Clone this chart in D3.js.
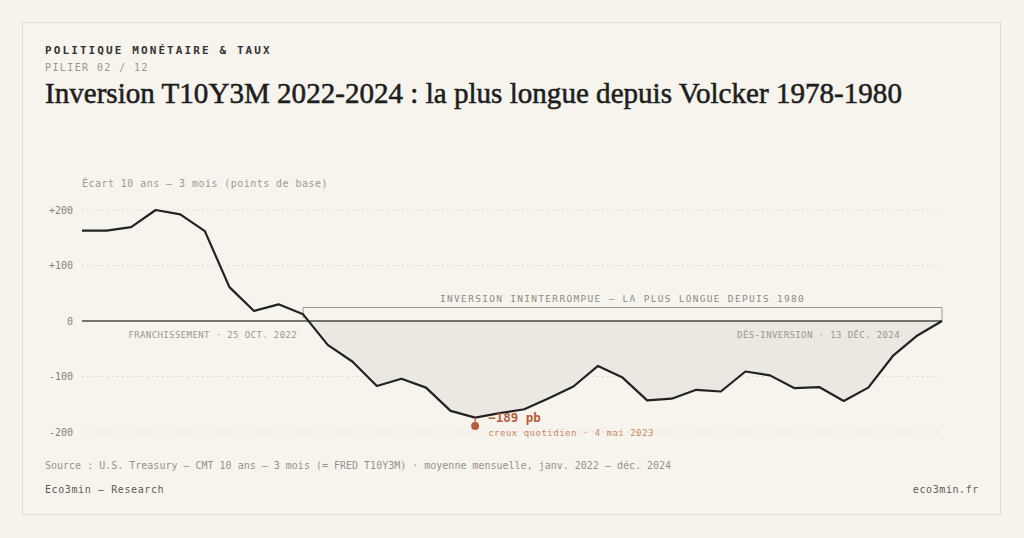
<!DOCTYPE html>
<html lang="fr">
<head>
<meta charset="utf-8">
<script src="https://cdn.jsdelivr.net/npm/d3@7"></script>
<style>
  html, body { margin: 0; padding: 0; background: #f6f3ec; }
  svg { display: block; }
</style>
</head>
<body>
<script>
// Spread 10 ans - 3 mois, moyenne mensuelle (pb), janv. 2022 -> déc. 2024
const months = [
  '2022-01', '2022-02', '2022-03', '2022-04', '2022-05', '2022-06',
  '2022-07', '2022-08', '2022-09', '2022-10', '2022-11', '2022-12',
  '2023-01', '2023-02', '2023-03', '2023-04', '2023-05', '2023-06',
  '2023-07', '2023-08', '2023-09', '2023-10', '2023-11', '2023-12',
  '2024-01', '2024-02', '2024-03', '2024-04', '2024-05', '2024-06',
  '2024-07', '2024-08', '2024-09', '2024-10', '2024-11', '2024-12'
];
const spread = [
  163, 163, 169, 200, 192, 162,
  61, 18, 30, 12, -43, -73,
  -117, -104, -120, -162, -174, -166,
  -159, -139, -118, -81, -102, -143,
  -140, -124, -127, -91, -98, -121,
  -119, -144, -120, -63, -26, 0
];
const yTicks = [200, 100, 0, -100, -200];
const yTickLabels = ['+200', '+100', '0', '-100', '-200'];

const crossMonth = '2022-10';
const crossLabel = 'FRANCHISSEMENT · 25 OCT. 2022';
const endMonth = '2024-12';
const endLabel = 'DÉS-INVERSION · 13 DÉC. 2024';
const bracketLabel = 'INVERSION ININTERROMPUE — LA PLUS LONGUE DEPUIS 1980';
const troughMonth = '2023-05';
const troughValue = -189;
const troughLabel = '−189 pb';
const troughNote = 'creux quotidien · 4 mai 2023';

const kicker = 'POLITIQUE MONÉTAIRE & TAUX';
const pillar = 'PILIER 02 / 12';
const title = 'Inversion T10Y3M 2022-2024 : la plus longue depuis Volcker 1978-1980';
const yCaption = 'Écart 10 ans – 3 mois (points de base)';
const source = 'Source : U.S. Treasury — CMT 10 ans – 3 mois (= FRED T10Y3M) · moyenne mensuelle, janv. 2022 – déc. 2024';
const brand = 'Eco3min — Research';
const site = 'eco3min.fr';

const W = 1024, H = 538;
const mono = '"DejaVu Sans Mono", "Liberation Mono", monospace';
const serif = '"Liberation Serif", "DejaVu Serif", serif';
const rust = '#b85c3c';

const svg = d3.select('body').append('svg')
  .attr('width', W).attr('height', H);

svg.append('rect')
  .attr('x', 22.5).attr('y', 22.5)
  .attr('width', 978).attr('height', 492)
  .attr('fill', '#f7f4ed')
  .attr('stroke', '#e2ddd2');

// header
svg.append('text')
  .attr('x', 45).attr('y', 54)
  .attr('font-family', mono).attr('font-size', 11).attr('font-weight', 700)
  .attr('letter-spacing', 2.1).attr('fill', '#333')
  .text(kicker);
svg.append('text')
  .attr('x', 45).attr('y', 71)
  .attr('font-family', mono).attr('font-size', 10)
  .attr('letter-spacing', 1.4).attr('fill', '#9a968e')
  .text(pillar);
// regular weight with a thin stroke, closer to the reference's semibold
const titleText = svg.append('text')
  .attr('x', 45).attr('y', 103)
  .attr('font-family', serif).attr('font-size', 28)
  .attr('fill', '#1e1e1e')
  .attr('stroke', '#1e1e1e').attr('stroke-width', 0.55)
  .text(title);
// fit the title to the reference width
const titleWidth = 857;
const tw = titleText.node().getComputedTextLength();
titleText.attr('font-size', 28 * titleWidth / tw);

const x = d3.scalePoint().domain(months).range([82, 942]);
const y = d3.scaleLinear().domain([-200, 200]).range([432, 210]);

const plot = svg.append('g');

// grid
plot.selectAll('line.grid')
  .data(yTicks.filter(d => d !== 0))
  .join('line')
  .attr('class', 'grid')
  .attr('x1', 82).attr('x2', 942)
  .attr('y1', d => y(d)).attr('y2', d => y(d))
  .attr('stroke', '#d9d4c9')
  .attr('stroke-width', 1)
  .attr('stroke-dasharray', '1.5,3.5');

plot.selectAll('text.tick')
  .data(yTicks)
  .join('text')
  .attr('class', 'tick')
  .attr('x', 73).attr('y', d => y(d))
  .attr('dy', '0.35em')
  .attr('text-anchor', 'end')
  .attr('font-family', mono).attr('font-size', 10)
  .attr('fill', '#86827a')
  .text((d, i) => yTickLabels[i]);

svg.append('text')
  .attr('x', 82).attr('y', 187)
  .attr('font-family', mono).attr('font-size', 10)
  .attr('letter-spacing', 0.45).attr('fill', '#9d9991')
  .text(yCaption);

// inverted area, clipped below zero
svg.append('clipPath').attr('id', 'below')
  .append('rect')
  .attr('x', 0).attr('y', y(0))
  .attr('width', W).attr('height', H - y(0));

const area = d3.area()
  .x((d, i) => x(months[i]))
  .y0(y(0))
  .y1(d => y(d));

plot.append('path')
  .datum(spread)
  .attr('clip-path', 'url(#below)')
  .attr('fill', '#ebe8e2')
  .attr('d', area);

// bracket
const bx0 = x(crossMonth), bx1 = x(endMonth);
plot.append('path')
  .attr('d', `M${bx0},${y(0) - 3}V307.5H${bx1}V${y(0)}`)
  .attr('fill', 'none')
  .attr('stroke', '#9d9992')
  .attr('stroke-width', 1);
plot.append('text')
  .attr('x', (bx0 + bx1) / 2).attr('y', 302)
  .attr('text-anchor', 'middle')
  .attr('font-family', mono).attr('font-size', 9.5)
  .attr('letter-spacing', 1.3).attr('fill', '#8f8b83')
  .text(bracketLabel);

// zero line
plot.append('line')
  .attr('x1', 82).attr('x2', 942)
  .attr('y1', y(0)).attr('y2', y(0))
  .attr('stroke', '#4a4845')
  .attr('stroke-width', 1.6);

// series
plot.append('path')
  .datum(spread)
  .attr('fill', 'none')
  .attr('stroke', '#222')
  .attr('stroke-width', 2.2)
  .attr('stroke-linejoin', 'round')
  .attr('d', d3.line().x((d, i) => x(months[i])).y(d => y(d)));

// event labels
plot.append('text')
  .attr('x', bx0 - 6).attr('y', y(0) + 17)
  .attr('text-anchor', 'end')
  .attr('font-family', mono).attr('font-size', 9)
  .attr('letter-spacing', 0.4).attr('fill', '#9a968e')
  .text(crossLabel);
plot.append('text')
  .attr('x', bx1 - 42).attr('y', y(0) + 17)
  .attr('text-anchor', 'end')
  .attr('font-family', mono).attr('font-size', 9)
  .attr('letter-spacing', 0.4).attr('fill', '#9a968e')
  .text(endLabel);

// trough
const tx = x(troughMonth);
const ti = months.indexOf(troughMonth);
plot.append('line')
  .attr('x1', tx).attr('x2', tx)
  .attr('y1', y(spread[ti])).attr('y2', y(troughValue))
  .attr('stroke', rust).attr('stroke-width', 1.2);
plot.append('circle')
  .attr('cx', tx).attr('cy', y(troughValue)).attr('r', 4)
  .attr('fill', rust);
plot.append('text')
  .attr('x', tx + 13).attr('y', y(troughValue) - 4)
  .attr('font-family', mono).attr('font-size', 12.5).attr('font-weight', 700)
  .attr('fill', rust)
  .text(troughLabel);
plot.append('text')
  .attr('x', tx + 13).attr('y', y(troughValue) + 10)
  .attr('font-family', mono).attr('font-size', 9)
  .attr('letter-spacing', 0.5).attr('fill', '#c98467')
  .text(troughNote);

// footer
svg.append('text')
  .attr('x', 45).attr('y', 469)
  .attr('font-family', mono).attr('font-size', 10)
  .attr('fill', '#96928a')
  .text(source);
svg.append('text')
  .attr('x', 45).attr('y', 493)
  .attr('font-family', mono).attr('font-size', 10)
  .attr('letter-spacing', 0.6).attr('fill', '#5f5b55')
  .text(brand);
svg.append('text')
  .attr('x', 979).attr('y', 493)
  .attr('text-anchor', 'end')
  .attr('font-family', mono).attr('font-size', 10)
  .attr('letter-spacing', 0.6).attr('fill', '#5f5b55')
  .text(site);
</script>
</body>
</html>
